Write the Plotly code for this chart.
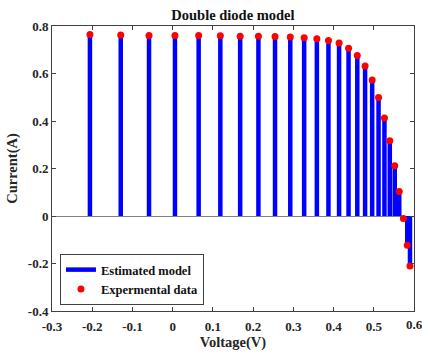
import plotly.graph_objects as go

voltage = [-0.2057, -0.1291, -0.0588, 0.0057, 0.0646, 0.1185, 0.1678, 0.2132, 0.2545,
           0.2924, 0.3269, 0.3585, 0.3873, 0.4137, 0.4373, 0.4590, 0.4784, 0.4960,
           0.5119, 0.5265, 0.5398, 0.5521, 0.5633, 0.5736, 0.5833, 0.5900]
current_data = [0.7640, 0.7620, 0.7605, 0.7605, 0.7600, 0.7590, 0.7570, 0.7570, 0.7555,
                0.7540, 0.7505, 0.7465, 0.7385, 0.7280, 0.7065, 0.6755, 0.6320, 0.5730,
                0.4990, 0.4130, 0.3165, 0.2120, 0.1035, -0.0100, -0.1230, -0.2100]
current_model = list(current_data)

x_ticks = [-0.3, -0.2, -0.1, 0, 0.1, 0.2, 0.3, 0.4, 0.5, 0.6]
x_tick_labels = ["-0.3", "-0.2", "-0.1", "0", "0.1", "0.2", "0.3", "0.4", "0.5", "0.6"]
y_ticks = [-0.4, -0.2, 0, 0.2, 0.4, 0.6, 0.8]
y_tick_labels = ["-0.4", "-0.2", "0", "0.2", "0.4", "0.6", "0.8"]

FONT = "Liberation Serif, Times New Roman, serif"
AX = "#404040"

sx, sy = [], []
for v, c in zip(voltage, current_model):
    sx += [v, v, None]
    sy += [0, c, None]

fig = go.Figure()
fig.add_trace(go.Scatter(x=sx, y=sy, mode="lines", name="<b>Estimated model</b>",
                         line=dict(color="#0000ff", width=4.5), connectgaps=False))
fig.add_trace(go.Scatter(x=voltage, y=current_data, mode="markers", name="<b>Expermental data</b>",
                         marker=dict(color="#ff0000", size=7)))

axis_common = dict(showgrid=False, ticks="inside", ticklen=4, tickcolor=AX,
                   linecolor=AX, linewidth=1, mirror="ticks", showline=True,
                   tickfont=dict(family=FONT, size=13, color="#262626"))

fig.update_layout(
    width=422, height=354,
    margin=dict(l=52, r=7, t=26, b=41),
    plot_bgcolor="white", paper_bgcolor="white",
    title=dict(text="<b>Double diode model</b>", x=0.552, xanchor="center", y=0.957, yanchor="middle",
               font=dict(family=FONT, size=14.5, color="#111111")),
    xaxis=dict(range=[-0.3, 0.6], tickvals=x_ticks, ticktext=["<b>%s</b>" % t for t in x_tick_labels],
               zeroline=False, ticklabelstandoff=3,
               title=dict(text="<b>Voltage(V)</b>", font=dict(family=FONT, size=14.5, color="#262626"), standoff=3),
               **axis_common),
    yaxis=dict(range=[-0.4, 0.8], tickvals=y_ticks, ticktext=["<b>%s</b>" % t for t in y_tick_labels],
               zeroline=True, zerolinecolor="#808080", zerolinewidth=1,
               title=dict(text="<b>Current(A)</b>", font=dict(family=FONT, size=14.5, color="#262626"), standoff=6),
               **axis_common),
    legend=dict(x=0.022, y=0.2, xanchor="left", yanchor="top",
                bgcolor="white", bordercolor=AX, borderwidth=1,
                font=dict(family=FONT, size=12.5, color="#111111"),
                tracegroupgap=0, itemwidth=30),
    showlegend=True,
)

# the right-most x tick label sits at the figure edge and is dropped by plotly; draw it as text
fig.add_annotation(x=x_ticks[-1], xref="x", y=0, yref="paper", yanchor="top", yshift=-4,
                   text="<b>%s</b>" % x_tick_labels[-1], showarrow=False, xanchor="center",
                   font=dict(family=FONT, size=13, color="#262626"))

fig.write_html("out.html")
